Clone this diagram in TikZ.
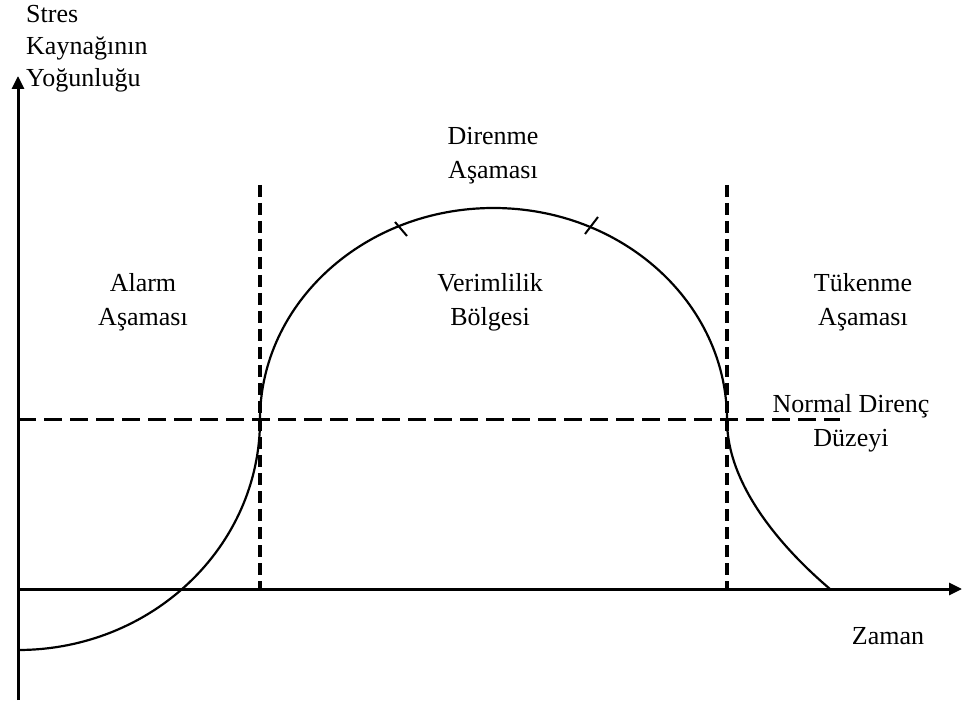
\documentclass[tikz,border=0pt]{standalone}
\usepackage{fontspec}
\setmainfont{Liberation Serif}
\usetikzlibrary{arrows.meta}
\begin{document}
\begin{tikzpicture}[x=1pt,y=1pt,
 lbl/.style={font=\fontsize{26}{34}\selectfont, align=center, inner sep=0pt},
 lbll/.style={font=\fontsize{26}{32}\selectfont, align=left, inner sep=0pt},
 axis/.style={line width=3pt, -{Triangle[length=13pt,width=12pt]}},
 vdash/.style={line width=3.5pt, dash pattern=on 12pt off 6pt},
 hdash/.style={line width=3pt, dash pattern=on 18pt off 8pt},
 curve/.style={line width=2.2pt},
 tickmark/.style={line width=2pt}]
\useasboundingbox (0,0) rectangle (962,-711);
% axes
\coordinate (O) at (18,-589);
\coordinate (ybot) at (18,-700);
\coordinate (ytop) at (18,-76);
\coordinate (xend) at (962,-589);
\draw[axis] (ybot) -- (ytop);
\draw[axis] (O) -- (xend);
% dashed lines
\coordinate (v1t) at (260,-185);
\coordinate (v1b) at (260,-589);
\coordinate (v2t) at (727,-185);
\coordinate (v2b) at (727,-589);
\coordinate (hl) at (18,-420);
\coordinate (hr) at (840,-420);
\draw[vdash] (v1t) -- (v1b);
\draw[vdash] (v2t) -- (v2b);
\draw[hdash] (hl) -- (hr);
% curve
\coordinate (c0) at (18,-650);
\coordinate (c3) at (830,-589);
\draw[curve] (c0) arc[start angle=270, end angle=360, x radius=242, y radius=230]
  arc[start angle=180, end angle=0, x radius=233.5, y radius=212]
  .. controls (727,-490) and (790,-555) .. (c3);
% ticks
\coordinate (t1a) at (395,-222);
\coordinate (t1b) at (407,-236);
\coordinate (t2a) at (585,-234);
\coordinate (t2b) at (598,-217);
\draw[tickmark] (t1a) -- (t1b);
\draw[tickmark] (t2a) -- (t2b);
% labels
\node[lbll, anchor=west] (ylab) at (26,-49) {Stres\\Kaynağının\\Yoğunluğu};
\node[lbl] (alarm) at (143,-302) {Alarm\\Aşaması};
\node[lbl] (direnme) at (493,-156) {Direnme\\Aşaması};
\node[lbl] (verim) at (490,-302) {Verimlilik\\Bölgesi};
\node[lbl] (tuk) at (863,-302) {Tükenme\\Aşaması};
\node[lbl] (normal) at (851,-423) {Normal Direnç\\Düzeyi};
\node[lbl] (zaman) at (888,-636) {Zaman};
\end{tikzpicture}
\end{document}
